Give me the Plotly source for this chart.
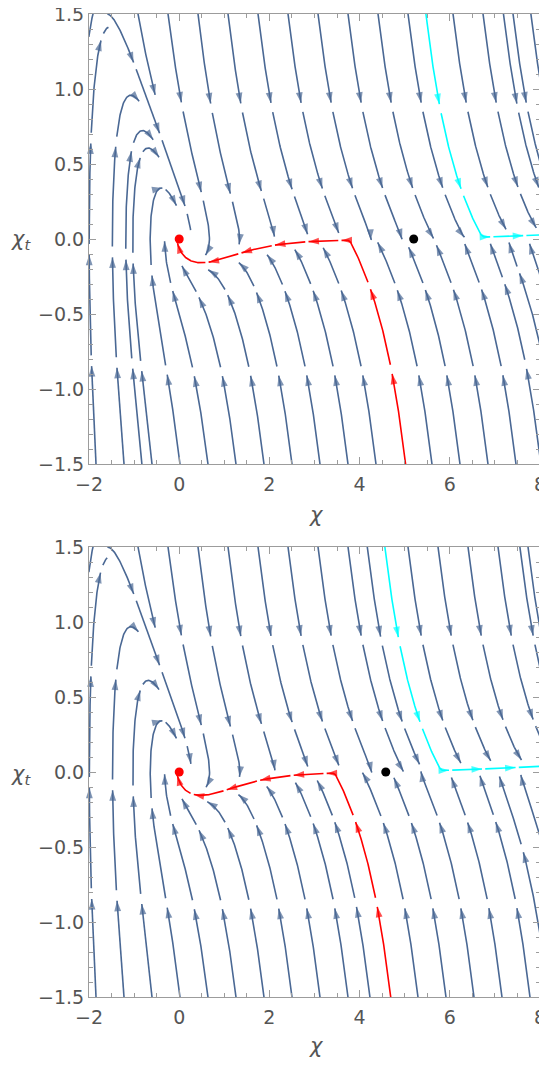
import math
import numpy as np
import plotly.graph_objects as go

# ---------------- values ----------------
X_RANGE = [-2.0, 8.0]
Y_RANGE = [-1.5, 1.5]
X_TICKS = [-2, 0, 2, 4, 6, 8]
X_TICK_TEXT = ["\u22122", "0", "2", "4", "6", "8"]
Y_TICKS = [-1.5, -1.0, -0.5, 0.0, 0.5, 1.0, 1.5]
Y_TICK_TEXT = ["\u22121.5", "\u22121.0", "\u22120.5", "0.0", "0.5", "1.0", "1.5"]

SADDLE_CHI = [5.2, 4.58]            # black dot (hill top) per panel
MIN_POINT = [0.0, 0.0]              # red dot (minimum), both panels
RED_START = [[5.02, -1.5], [4.69, -1.5]]
RED_END_CHI_T = [-0.03, -0.03]
CYAN_START = [[5.47, 1.5], [4.56, 1.5]]

# flow model  chi' = chi_t ,  chi_t' = -Gamma(chi_t) chi_t - V'(chi)
FRICTION = [2.58, 0.48]             # Gamma^2 = a chi_t^2 + b
SLOPE_AMP = [0.95, 0.0045]          # V' = chi (1 - chi/chi_s) (A/(e^{k1 chi}+e^{k2 chi}) + B)
SLOPE_RATE = [0.45, 1.8]

# ---------------- style ----------------
BLUE = "#4a6894"
RED = "#ff0000"
CYAN = "#00ffff"
FRAME = "#9c9c9c"
TEXT = "#555555"
FONT = "DejaVu Sans"

# page geometry (the page body has an 8 px margin)
PAGE_OFF = 8
W, H = 547 - PAGE_OFF, 1066 - 2 * PAGE_OFF
FRAME_L, FRAME_R = 89, 540          # page pixels
TOP1, BOT1 = 14, 464
TOP2, BOT2 = 547, 997
L_M = FRAME_L - PAGE_OFF
T_M = TOP1 - PAGE_OFF
PW = FRAME_R - FRAME_L
R_M = W - L_M - PW
B_M = H - (BOT2 - PAGE_OFF)
PH = BOT1 - TOP1

SX = PW / (X_RANGE[1] - X_RANGE[0])
SY = PH / (Y_RANGE[1] - Y_RANGE[0])
NX, NY = int(PW) + 2, int(PH) + 2

D_SEP = 14
D_TEST = 6
STEP = 0.012
PERIOD = 0.74
DASH = 0.68
ARROW_MIN_PX = 18
ARROW_SIZE = 11
AXIS_BAND = 0.05
ORIGIN_CLEAR = 15
SADDLE_CLEAR = 10


def to_px(x, y):
    return (x - X_RANGE[0]) * SX, (Y_RANGE[1] - y) * SY


def make_field(xs):
    A, B = SLOPE_AMP
    k1, k2 = SLOPE_RATE
    fa, fb = FRICTION

    def f(x, y):
        g = A / (math.exp(k1 * x) + math.exp(k2 * x)) + B
        vp = x * (1.0 - x / xs) * g
        return y, -y * math.sqrt(fa * y * y + fb) - vp
    return f


def unit(f, x, y, s):
    u, v = f(x, y)
    n = math.hypot(u, v)
    if n < 1e-12:
        return None
    return s * u / n, s * v / n


def rk4(f, x, y, h, s):
    a = unit(f, x, y, s)
    if a is None:
        return None
    b = unit(f, x + 0.5 * h * a[0], y + 0.5 * h * a[1], s)
    if b is None:
        return None
    c = unit(f, x + 0.5 * h * b[0], y + 0.5 * h * b[1], s)
    if c is None:
        return None
    d = unit(f, x + h * c[0], y + h * c[1], s)
    if d is None:
        return None
    return (x + h / 6 * (a[0] + 2 * b[0] + 2 * c[0] + d[0]),
            y + h / 6 * (a[1] + 2 * b[1] + 2 * c[1] + d[1]))


def mark(arr, px, py, r):
    ix, iy = int(round(px)), int(round(py))
    x0, x1 = max(0, ix - r), min(NX, ix + r + 1)
    y0, y1 = max(0, iy - r), min(NY, iy + r + 1)
    if x0 < x1 and y0 < y1:
        arr[y0:y1, x0:x1] = True


def hit(arr, px, py):
    ix, iy = int(round(px)), int(round(py))
    if 0 <= ix < NX and 0 <= iy < NY:
        return bool(arr[iy, ix])
    return False


def inside(x, y):
    return X_RANGE[0] <= x <= X_RANGE[1] and Y_RANGE[0] <= y <= Y_RANGE[1]


def trace(f, x0, y0, s, occ, stops, max_len=30.0, stop_fn=None, lag=30, axis_stop=False):
    pts = [(x0, y0)]
    selfr = np.zeros((NY, NX), dtype=bool)
    x, y = x0, y0
    for i in range(int(max_len / STEP)):
        r = rk4(f, x, y, STEP, s)
        if r is None:
            break
        nx_, ny_ = r
        if axis_stop and abs(ny_) < AXIS_BAND:
            dxp = abs(nx_ - x) * SX
            dyp = abs(ny_ - y) * SY
            if dxp > 1.5 * dyp:
                break
        x, y = nx_, ny_
        pts.append((x, y))
        if not inside(x, y):
            break
        if stop_fn is not None and stop_fn(x, y):
            break
        px, py = to_px(x, y)
        if occ is not None and (hit(occ, px, py) or hit(selfr, px, py)):
            pts.pop()
            break
        near = False
        for (qx, qy, rr) in stops:
            if math.hypot(px - qx, py - qy) < rr:
                near = True
        if near:
            break
        if i >= lag:
            qx, qy = to_px(*pts[-lag])
            mark(selfr, qx, qy, D_TEST)
    return pts


def px_len(pts):
    t = 0.0
    for (a, b) in zip(pts[:-1], pts[1:]):
        p, q = to_px(*a), to_px(*b)
        t += math.hypot(q[0] - p[0], q[1] - p[1])
    return t


def build_panel(k):
    xs = SADDLE_CHI[k]
    f = make_field(xs)
    occ_t = np.zeros((NY, NX), dtype=bool)
    occ_s = np.zeros((NY, NX), dtype=bool)
    ox, oy = to_px(MIN_POINT[0], MIN_POINT[1])
    sx_, sy_ = to_px(xs, 0.0)
    stops = [(ox, oy, ORIGIN_CLEAR), (sx_, sy_, SADDLE_CLEAR)]

    def register(pts):
        for (x, y) in pts:
            px, py = to_px(x, y)
            mark(occ_t, px, py, D_TEST)
            mark(occ_s, px, py, D_SEP)

    yend = RED_END_CHI_T[k]
    red = trace(f, RED_START[k][0], RED_START[k][1], 1, None, [],
                stop_fn=lambda x, y: x < 0 and y > yend)
    cyan = trace(f, CYAN_START[k][0], CYAN_START[k][1], 1, None, [])
    register(red)
    register(cyan)

    seeds = []
    for i in range(40):
        seeds.append((X_RANGE[0] + (4 + 15 * i) / SX, Y_RANGE[1]))
    for i in range(40):
        seeds.append((X_RANGE[0] + (7 + 14 * i) / SX, Y_RANGE[0]))
    for j in range(40):
        seeds.append((X_RANGE[1], Y_RANGE[0] + (7 + 14 * j) / SY))
    gx = np.arange(X_RANGE[0] + 7 / SX, X_RANGE[1], 14 / SX)
    gy = np.arange(Y_RANGE[1] - 7 / SY, Y_RANGE[0], -14 / SY)
    for yv in gy:
        for xv in gx:
            seeds.append((xv, yv))

    lines = []
    for (x0, y0) in seeds:
        if not inside(x0, y0):
            continue
        px, py = to_px(x0, y0)
        if hit(occ_s, px, py):
            continue
        if abs(y0) < AXIS_BAND:
            continue
        if any(math.hypot(px - q[0], py - q[1]) < q[2] + 6 for q in stops):
            continue
        fw = trace(f, x0, y0, 1, occ_t, stops, axis_stop=True)
        bw = trace(f, x0, y0, -1, occ_t, stops, axis_stop=True)
        pts = bw[::-1] + fw[1:]
        if len(pts) < 3 or px_len(pts) < 12:
            continue
        lines.append(pts)
        register(pts)
    return red, cyan, lines


def dashed(lines):
    lx, ly, ax, ay, asz = [], [], [], [], []
    for pts in lines:
        xs = np.array([p[0] for p in pts])
        ys = np.array([p[1] for p in pts])
        s = np.concatenate([[0.0], np.cumsum(np.hypot(np.diff(xs), np.diff(ys)))])
        total = s[-1]
        k = 0
        while k * PERIOD < total:
            a = k * PERIOD
            b = min(a + DASH, total)
            idx = np.where((s >= a) & (s <= b))[0]
            k += 1
            if len(idx) < 2:
                continue
            dx, dy = xs[idx], ys[idx]
            lx.extend(dx.tolist() + [None])
            ly.extend(dy.tolist() + [None])
            seg = list(zip(dx, dy))
            if px_len(seg) >= ARROW_MIN_PX:
                tx, ty = to_px(dx[-1], dy[-1])
                j = len(dx) - 2
                while j > 0:
                    qx, qy = to_px(dx[j], dy[j])
                    if math.hypot(tx - qx, ty - qy) >= 3:
                        break
                    j -= 1
                ax.extend([dx[j], dx[-1]])
                ay.extend([dy[j], dy[-1]])
                asz.extend([0, ARROW_SIZE])
    return lx, ly, ax, ay, asz


fig = go.Figure()
for k in range(2):
    red, cyan, lines = build_panel(k)
    xa = "x" if k == 0 else "x2"
    ya = "y" if k == 0 else "y2"
    for pts, col in ((lines, BLUE), ([red], RED), ([cyan], CYAN)):
        lx, ly, ax, ay, asz = dashed(pts)
        fig.add_trace(go.Scatter(x=lx, y=ly, mode="lines", xaxis=xa, yaxis=ya,
                                 line=dict(color=col, width=1.6), hoverinfo="skip",
                                 showlegend=False))
        fig.add_trace(go.Scatter(x=ax, y=ay, mode="markers", xaxis=xa, yaxis=ya,
                                 marker=dict(symbol="arrow", angleref="previous", size=asz,
                                             color=col, line=dict(width=0)),
                                 hoverinfo="skip", showlegend=False, cliponaxis=False))
    fig.add_trace(go.Scatter(x=[MIN_POINT[0]], y=[MIN_POINT[1]], mode="markers", xaxis=xa, yaxis=ya,
                             marker=dict(color=RED, size=9), showlegend=False, hoverinfo="skip"))
    fig.add_trace(go.Scatter(x=[SADDLE_CHI[k]], y=[0.0], mode="markers", xaxis=xa, yaxis=ya,
                             marker=dict(color="black", size=9), showlegend=False, hoverinfo="skip"))

plot_h = BOT2 - TOP1
dom1 = [(BOT2 - BOT1) / plot_h, 1.0]
dom2 = [0.0, (BOT2 - TOP2) / plot_h]


def xaxis(anchor):
    return dict(range=X_RANGE, domain=[0, 1], anchor=anchor, showgrid=False, zeroline=False,
                automargin=False, ticklabeloverflow="allow", ticklabelstandoff=3,
                showline=True, linecolor=FRAME, linewidth=1, mirror="ticks",
                ticks="inside", ticklen=7, tickcolor=FRAME, tickwidth=1,
                tickvals=X_TICKS, ticktext=X_TICK_TEXT,
                tickfont=dict(family=FONT, size=19, color=TEXT),
                minor=dict(ticks="inside", ticklen=4, dtick=0.5, tick0=0, tickcolor=FRAME, showgrid=False))


def yaxis(anchor, dom):
    return dict(range=Y_RANGE, domain=dom, anchor=anchor, showgrid=False, zeroline=False,
                automargin=False, ticklabeloverflow="allow",
                showline=True, linecolor=FRAME, linewidth=1, mirror="ticks",
                ticks="inside", ticklen=7, tickcolor=FRAME, tickwidth=1,
                tickvals=Y_TICKS, ticktext=Y_TICK_TEXT,
                tickfont=dict(family=FONT, size=19, color=TEXT),
                minor=dict(ticks="inside", ticklen=4, dtick=0.1, tick0=0, tickcolor=FRAME, showgrid=False))


def pxx(px):
    return (px - FRAME_L) / PW


def pyy(py):
    return (BOT2 - py) / plot_h


ann = []
for cy_lab, cy_t in ((515, 240), (1046, 775)):
    ann.append(dict(x=pxx(316), y=pyy(cy_lab), xref="paper", yref="paper", text="<i>\u03c7</i>",
                    showarrow=False, font=dict(family=FONT, size=21, color=TEXT),
                    xanchor="center", yanchor="middle"))
    ann.append(dict(x=pxx(21), y=pyy(cy_t), xref="paper", yref="paper",
                    text="<i>\u03c7<sub>t</sub></i>", showarrow=False,
                    font=dict(family=FONT, size=21, color=TEXT), xanchor="center", yanchor="middle"))

fig.update_layout(
    width=W, height=H, margin=dict(l=L_M, r=R_M, t=T_M, b=B_M, autoexpand=False),
    paper_bgcolor="white", plot_bgcolor="white",
    xaxis=xaxis("y"), yaxis=yaxis("x", dom1),
    xaxis2=xaxis("y2"), yaxis2=yaxis("x2", dom2),
    annotations=ann, showlegend=False,
)
fig.write_html("out.html")
